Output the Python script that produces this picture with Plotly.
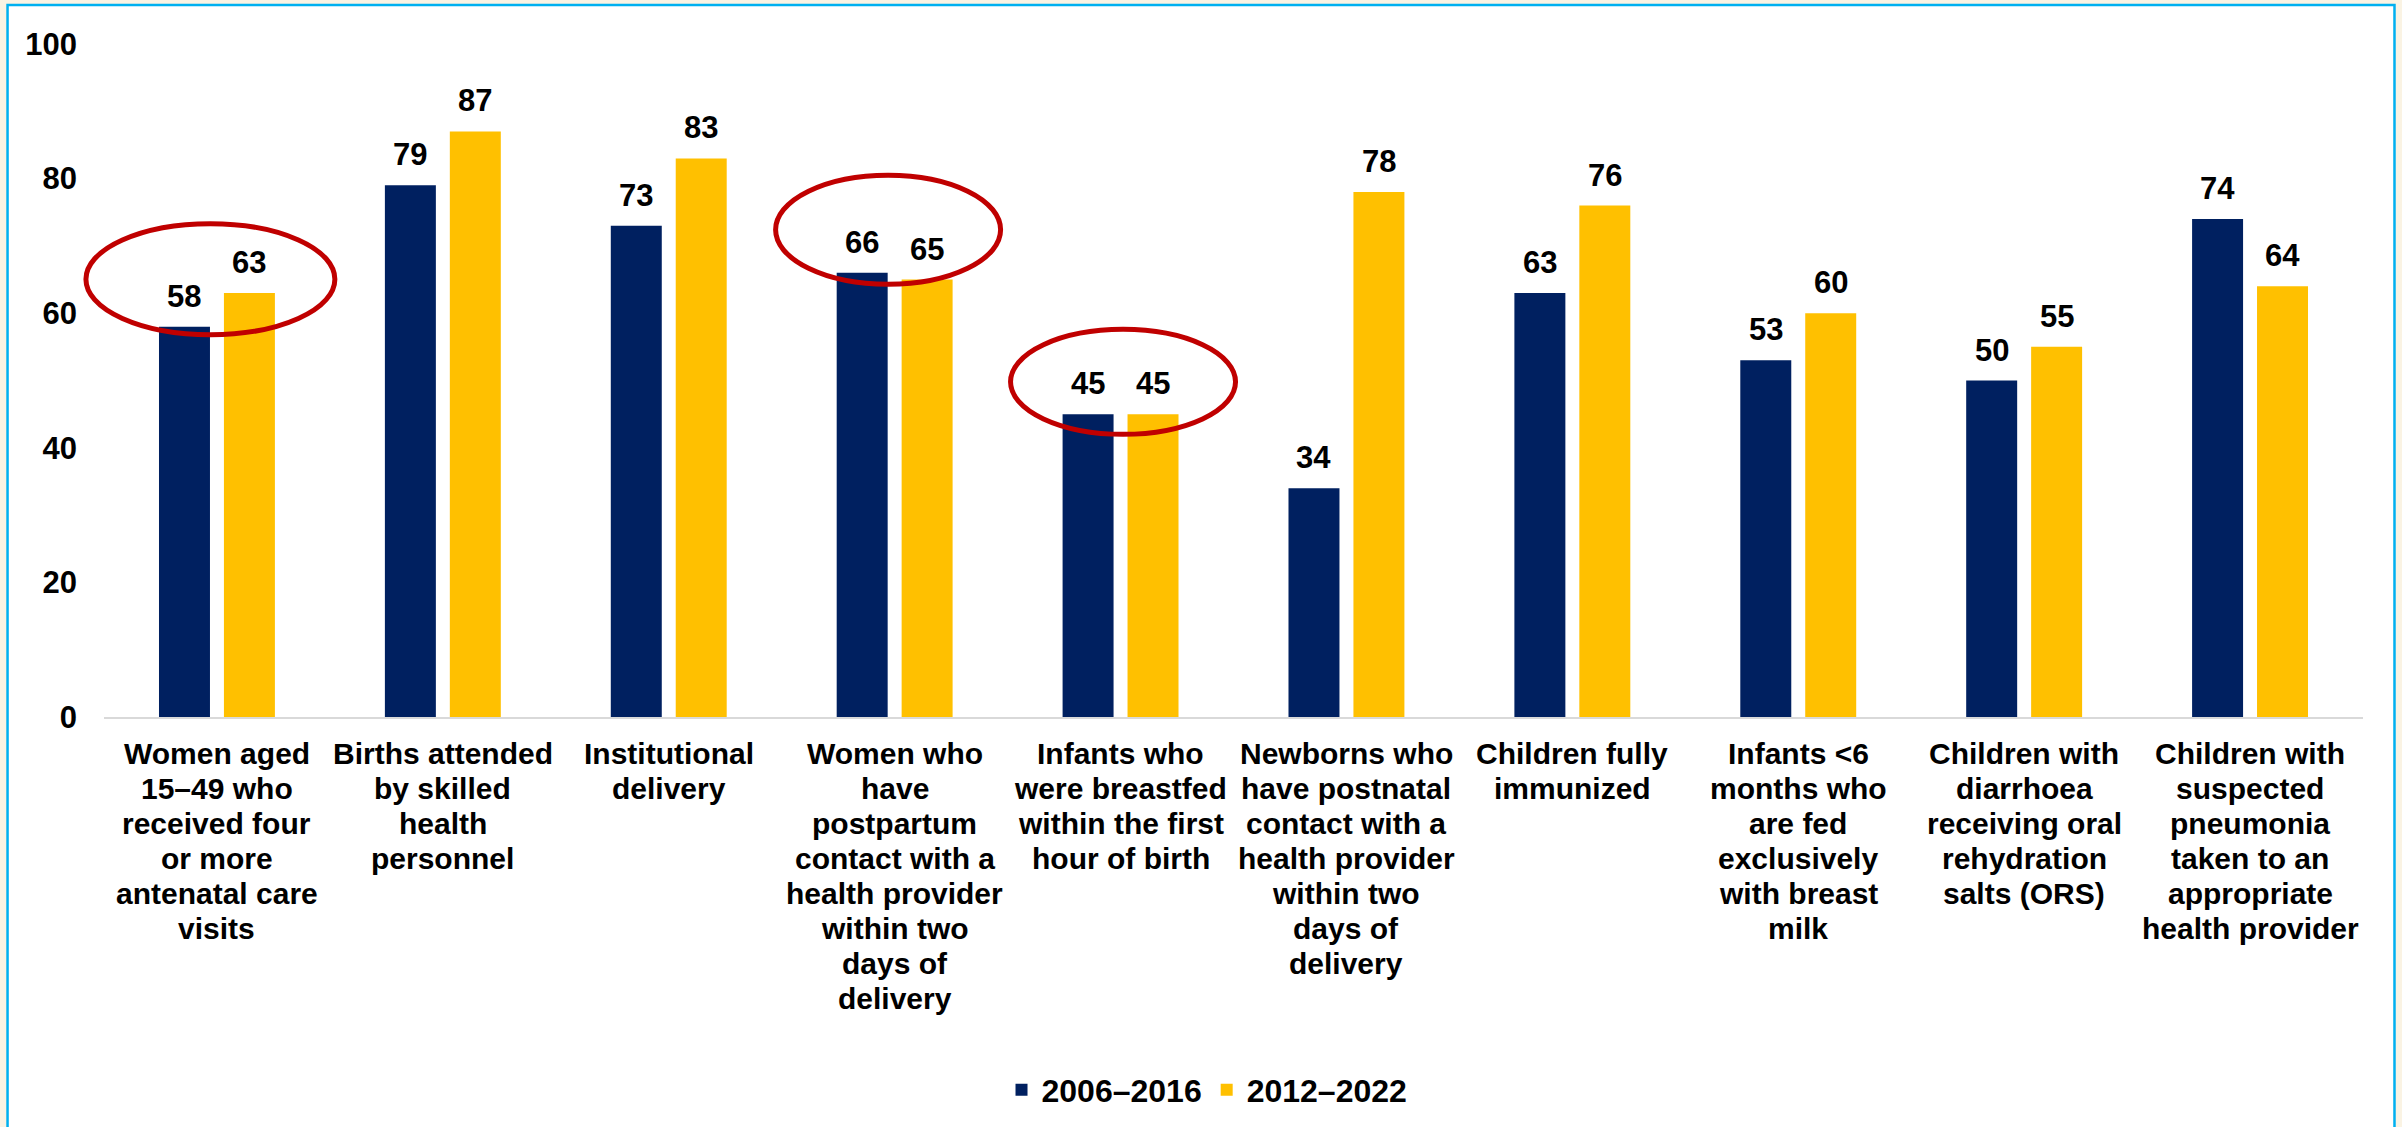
import plotly.graph_objects as go

# Indicator labels (line breaks as drawn under each category)
labels = [
    "Women aged<br>15–49 who<br>received four<br>or more<br>antenatal care<br>visits",
    "Births attended<br>by skilled<br>health<br>personnel",
    "Institutional<br>delivery",
    "Women who<br>have<br>postpartum<br>contact with a<br>health provider<br>within two<br>days of<br>delivery",
    "Infants who<br>were breastfed<br>within the first<br>hour of birth",
    "Newborns who<br>have postnatal<br>contact with a<br>health provider<br>within two<br>days of<br>delivery",
    "Children fully<br>immunized",
    "Infants &lt;6<br>months who<br>are fed<br>exclusively<br>with breast<br>milk",
    "Children with<br>diarrhoea<br>receiving oral<br>rehydration<br>salts (ORS)",
    "Children with<br>suspected<br>pneumonia<br>taken to an<br>appropriate<br>health provider",
]
categories = [l.replace("<br>", " ").replace("&lt;", "<") for l in labels]

series_names = ["2006–2016", "2012–2022"]
values_2006_2016 = [58, 79, 73, 66, 45, 34, 63, 53, 50, 74]
values_2012_2022 = [63, 87, 83, 65, 45, 78, 76, 60, 55, 64]
y_ticks = [0, 20, 40, 60, 80, 100]
Y_MAX = 100

# Indicators circled in red (category index ranges, value ranges)
highlights = [
    (-0.580, 0.522, 56.8, 73.3),
    (2.473, 3.469, 64.3, 80.5),
    (3.513, 4.509, 42.0, 57.6),
]

NAVY = "#002060"
GOLD = "#FFC000"
RED = "#C00000"
FONT = "Liberation Sans, Arial, sans-serif"

W, H = 2402, 1127
M_L, M_R, M_T, M_B = 103.5, 38.5, 44, 410
BARGAP = 0.425
n_cat = len(categories)
plot_w = W - M_L - M_R
plot_h = H - M_T - M_B
cat_px = plot_w / n_cat
bar_offset = (1 - BARGAP) * cat_px / 4

fig = go.Figure()
for name, vals, color in [(series_names[0], values_2006_2016, NAVY),
                          (series_names[1], values_2012_2022, GOLD)]:
    fig.add_trace(go.Bar(x=categories, y=vals, name=name,
                         marker=dict(color=color, line=dict(width=0))))

annotations = []
# value labels above each bar
for vals, sign in [(values_2006_2016, -1), (values_2012_2022, 1)]:
    for c, v in zip(categories, vals):
        annotations.append(dict(
            x=c, y=v, xref="x", yref="y", text=str(v), showarrow=False,
            xanchor="center", yanchor="bottom", xshift=sign * bar_offset, yshift=11,
            font=dict(family=FONT, size=31, color="black", weight="bold")))

# category labels, one line at a time for tight line spacing
for c, lab in zip(categories, labels):
    for k, line in enumerate(lab.split("<br>")):
        annotations.append(dict(
            x=c, y=0, xref="x", yref="y", text=line, showarrow=False,
            xanchor="center", yanchor="middle", yshift=-(36 + 35 * k),
            font=dict(family=FONT, size=30, color="black", weight="bold")))

shapes = [
    # white panel with blue frame
    dict(type="rect", xref="paper", yref="paper",
         x0=(7 - M_L) / plot_w, x1=(2395 - M_L) / plot_w,
         y0=-0.7, y1=(H - M_B - 5) / plot_h,
         fillcolor="white", line=dict(color="#00B0F0", width=2.5), layer="below"),
]
# ellipses in paper space so they may extend past the plotting area
for x0, x1, y0, y1 in highlights:
    shapes.append(dict(type="circle", xref="paper", yref="paper",
                       x0=(x0 + 0.5) / n_cat, x1=(x1 + 0.5) / n_cat,
                       y0=y0 / Y_MAX, y1=y1 / Y_MAX,
                       line=dict(color=RED, width=5), layer="above"))

fig.update_layout(
    width=W, height=H,
    margin=dict(l=M_L, r=M_R, t=M_T, b=M_B, autoexpand=False),
    paper_bgcolor="#FAF3E3", plot_bgcolor="rgba(0,0,0,0)",
    barmode="group", bargap=BARGAP, bargroupgap=0.215,
    font=dict(family=FONT, color="black"),
    showlegend=True,
    legend=dict(orientation="h", x=(1207 - M_L) / plot_w, xanchor="center",
                y=(H - M_B - 1090) / plot_h, yanchor="middle",
                font=dict(family=FONT, size=32, color="black", weight="bold"),
                bgcolor="rgba(0,0,0,0)", itemclick=False),
    xaxis=dict(showticklabels=False, showgrid=False, zeroline=False,
               showline=True, linecolor="#D9D9D9", linewidth=2, ticks="",
               range=[-0.5, n_cat - 0.5]),
    yaxis=dict(range=[0, Y_MAX], tickvals=y_ticks, showgrid=False, zeroline=False,
               showline=False, ticks="", ticklabelstandoff=26,
               tickfont=dict(family=FONT, size=31, color="black", weight="bold")),
    annotations=annotations,
    shapes=shapes,
)

fig.write_html("out.html")
